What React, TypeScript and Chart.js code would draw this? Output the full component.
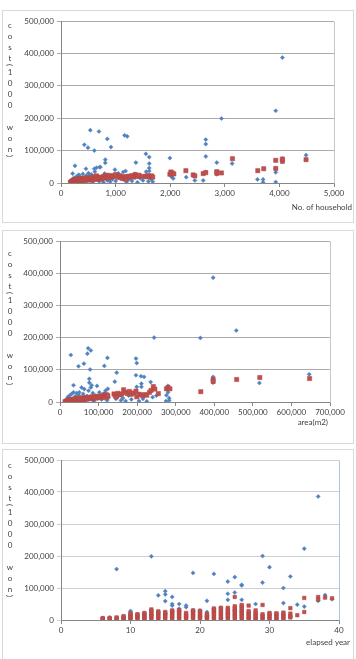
import React, { useEffect, useRef } from "react";
import { Chart, registerables } from "chart.js";

Chart.register(...registerables);

type Pt = [number, number];

const FONT = "Lato, 'Liberation Sans', sans-serif";
const BLUE = "#4F81BD";
const RED = "#C0504D";

const Y_TITLE = ["c", "o", "s", "t", "(", "1", "0", "0", "0", " ", "w", "o", "n", ")"];
const Y_TICK_MAX = 500000;
const Y_TICK_STEP = 100000;

// ---- cost vs. number of households ----
const HOUSEHOLD_BLUE: Pt[] = [
  [537, 163000], [695, 159000], [427, 118000], [494, 109000], [610, 100000], [848, 136000],
  [915, 111000], [1165, 147000], [1213, 144000], [811, 72000], [811, 62000], [1372, 63000],
  [1555, 90000], [1616, 80000], [1616, 60000], [1616, 46000], [1616, 37000], [256, 53000],
  [457, 44000], [707, 49000], [610, 44000], [988, 41000], [213, 29000], [335, 24000],
  [512, 29000], [799, 29000], [1140, 34000], [1183, 37000], [1994, 77000], [2012, 31000],
  [2024, 19000], [2055, 14000], [2293, 18000], [2451, 8000], [2604, 8000], [2652, 134000],
  [2652, 120000], [2652, 82000], [2652, 34000], [2854, 63000], [2854, 27000], [2939, 199000],
  [3134, 60000], [3598, 11000], [3701, 11000], [3701, 2000], [3933, 223000], [3933, 44000],
  [3933, 33000], [3933, 3000], [4055, 387000], [4055, 75000], [4055, 66000], [4488, 86000],
  [200, 5000], [230, 15000], [260, 2000], [280, 20000], [300, 10000], [320, 25000],
  [350, 18000], [380, 3000], [400, 28000], [430, 12000], [460, 22000], [500, 30000],
  [520, 8000], [560, 26000], [580, 3000], [620, 35000], [650, 47000], [680, 20000],
  [700, 5000], [720, 49000], [750, 15000], [780, 2000], [820, 24000], [850, 8000],
  [880, 19000], [900, 4000], [940, 12000], [1000, 6000], [1050, 30000], [1100, 22000],
  [1150, 10000], [1200, 3000], [1250, 12000], [1300, 6000], [1350, 28000], [1400, 2000],
  [1450, 15000], [1500, 8000], [1560, 35000], [1600, 5000], [1650, 12000], [1680, 4000],
];

const HOUSEHOLD_RED: Pt[] = [
  [170, 2000], [190, 4000], [200, 6000], [210, 3000], [220, 8000], [230, 5000], [240, 10000],
  [250, 7000], [260, 3000], [270, 9000], [280, 12000], [290, 6000], [300, 4000], [310, 10000],
  [320, 8000], [330, 13000], [340, 5000], [350, 11000], [360, 7000], [370, 14000], [380, 9000],
  [400, 12000], [410, 6000], [420, 15000], [430, 10000], [450, 8000], [460, 13000], [480, 16000],
  [500, 11000], [510, 9000], [530, 14000], [550, 17000], [560, 12000], [580, 10000], [600, 15000],
  [620, 19000], [640, 13000], [650, 22000], [660, 11000], [680, 16000], [700, 14000], [720, 18000],
  [740, 12000], [760, 17000], [780, 20000], [800, 15000], [820, 22000], [840, 18000], [860, 24000],
  [880, 16000], [900, 21000], [930, 19000], [950, 23000], [980, 20000], [1000, 26000], [1050, 17000],
  [1080, 22000], [1100, 18000], [1120, 14000], [1150, 20000], [1180, 16000], [1200, 12000],
  [1230, 21000], [1260, 19000], [1300, 23000], [1330, 18000], [1360, 26000], [1380, 22000],
  [1400, 20000], [1430, 24000], [1500, 20000], [1550, 21000], [1580, 19000], [1600, 23000],
  [1630, 20000], [1660, 22000], [1680, 18000], [1994, 27000], [2012, 34000], [2037, 31000],
  [2067, 28000], [2287, 38000], [2421, 25000], [2451, 22000], [2604, 29000], [2652, 32000],
  [2854, 35000], [2854, 30000], [2939, 31000], [3140, 75000], [3604, 38000], [3713, 44000],
  [3933, 70000], [3933, 45000], [4055, 67000], [4055, 74000], [4488, 72000],
];

// ---- cost vs. site area ----
const AREA_BLUE: Pt[] = [
  [397000, 386000], [457000, 222000], [364000, 199000], [244000, 200000], [28000, 146000],
  [73000, 167000], [80000, 160000], [71000, 150000], [62000, 119000], [48000, 111000],
  [78000, 101000], [123000, 137000], [115000, 112000], [197000, 135000], [199000, 121000],
  [197000, 83000], [210000, 80000], [218000, 78000], [147000, 91000], [142000, 63000],
  [76000, 72000], [76000, 60000], [82000, 52000], [35000, 52000], [96000, 50000],
  [235000, 62000], [397000, 78000], [397000, 60000], [517000, 59000], [646000, 86000],
  [280000, 50000], [276000, 21000], [283000, 5000], [275000, 3000], [211000, 57000],
  [211000, 47000], [199000, 47000], [115000, 26000], [124000, 41000],
  [15000, 3000], [18000, 8000], [20000, 15000], [23000, 5000], [25000, 20000], [27000, 10000],
  [30000, 25000], [32000, 3000], [35000, 30000], [38000, 12000], [40000, 18000], [43000, 28000],
  [45000, 6000], [48000, 22000], [50000, 30000], [53000, 14000], [56000, 45000], [58000, 8000],
  [60000, 25000], [63000, 40000], [66000, 3000], [70000, 18000], [74000, 35000], [80000, 45000],
  [83000, 10000], [85000, 28000], [88000, 2000], [92000, 20000], [98000, 12000], [102000, 30000],
  [108000, 8000], [112000, 25000], [118000, 35000], [122000, 5000], [126000, 15000],
  [145000, 10000], [152000, 20000], [158000, 5000], [163000, 12000], [170000, 3000],
  [178000, 20000], [185000, 8000], [195000, 28000], [205000, 3000], [215000, 10000],
  [225000, 2000], [240000, 15000], [250000, 20000], [280000, 30000], [283000, 12000],
];

const AREA_RED: Pt[] = [
  [13000, 1000], [16000, 3000], [18000, 2000], [20000, 5000], [22000, 3000], [24000, 6000],
  [26000, 4000], [28000, 7000], [30000, 2000], [32000, 8000], [34000, 5000], [36000, 9000],
  [38000, 4000], [40000, 10000], [42000, 6000], [44000, 8000], [46000, 11000], [48000, 5000],
  [50000, 9000], [52000, 12000], [55000, 7000], [58000, 10000], [60000, 13000], [62000, 8000],
  [65000, 11000], [68000, 14000], [70000, 9000], [72000, 12000], [75000, 15000], [78000, 10000],
  [80000, 13000], [83000, 16000], [86000, 11000], [88000, 14000], [90000, 17000], [93000, 12000],
  [96000, 15000], [100000, 18000], [103000, 13000], [106000, 16000], [110000, 19000],
  [113000, 14000], [116000, 21000], [118000, 17000], [120000, 23000], [122000, 15000],
  [124000, 20000], [140000, 25000], [143000, 20000], [146000, 16000], [150000, 27000],
  [155000, 22000], [160000, 25000], [165000, 38000], [170000, 30000], [175000, 26000],
  [180000, 33000], [185000, 24000], [190000, 28000], [197000, 34000], [199000, 16000],
  [205000, 24000], [210000, 22000], [215000, 20000], [220000, 23000], [225000, 21000],
  [232000, 30000], [236000, 36000], [242000, 48000], [246000, 40000], [255000, 26000],
  [276000, 41000], [280000, 45000], [285000, 41000], [365000, 32000], [397000, 70000],
  [397000, 64000], [458000, 70000], [518000, 76000], [647000, 73000],
];

// ---- cost vs. elapsed years ----
const YEAR_BLUE: Pt[] = [
  [6, 6000], [7, 8000], [8, 159000], [8, 5000], [9, 10000], [10, 28000], [10, 5000], [11, 18000],
  [12, 20000], [12, 4000], [13, 199000], [13, 30000], [13, 15000], [14, 77000], [14, 25000],
  [15, 90000], [15, 80000], [15, 59000], [15, 20000], [16, 72000], [16, 50000], [16, 45000],
  [16, 28000], [17, 50000], [17, 35000], [17, 30000], [18, 45000], [18, 40000], [18, 10000],
  [19, 147000], [19, 30000], [20, 30000], [20, 10000], [21, 60000], [21, 25000], [22, 144000],
  [22, 35000], [23, 38000], [23, 5000], [24, 120000], [24, 82000], [24, 63000], [24, 20000],
  [25, 134000], [25, 86000], [25, 30000], [26, 110000], [26, 108000], [26, 63000], [26, 25000],
  [27, 5000], [28, 50000], [28, 2000], [29, 200000], [29, 117000], [29, 0], [30, 165000],
  [30, 1000], [31, 3000], [32, 100000], [32, 53000], [33, 136000], [33, 10000], [34, 48000],
  [35, 223000], [35, 42000], [37, 386000], [37, 60000], [38, 78000], [39, 65000],
];

const YEAR_RED: Pt[] = [
  [6, 2000], [6, 4000], [6, 6000], [7, 2000], [7, 4000], [7, 6000], [8, 2000], [8, 5000], [8, 8000],
  [9, 2000], [9, 5000], [9, 9000], [9, 12000],
  [10, 2000], [10, 6000], [10, 10000], [10, 14000], [10, 18000], [10, 21000],
  [11, 3000], [11, 7000], [11, 11000], [11, 15000], [11, 18000],
  [12, 3000], [12, 7000], [12, 11000], [12, 15000], [12, 19000], [12, 22000],
  [13, 3000], [13, 8000], [13, 13000], [13, 18000], [13, 23000], [13, 28000], [13, 33000],
  [14, 3000], [14, 8000], [14, 13000], [14, 18000], [14, 23000], [14, 27000],
  [15, 3000], [15, 8000], [15, 13000], [15, 18000], [15, 22000], [15, 25000],
  [16, 3000], [16, 8000], [16, 13000], [16, 18000], [16, 23000], [16, 27000], [16, 30000],
  [17, 3000], [17, 8000], [17, 13000], [17, 18000], [17, 23000], [17, 27000], [17, 31000],
  [18, 3000], [18, 8000], [18, 13000], [18, 18000], [18, 22000],
  [19, 3000], [19, 8000], [19, 13000], [19, 18000], [19, 23000], [19, 27000], [19, 30000],
  [20, 3000], [20, 8000], [20, 13000], [20, 18000], [20, 23000], [20, 28000],
  [21, 3000], [21, 7000], [21, 11000], [21, 15000], [21, 18000],
  [22, 3000], [22, 8000], [22, 13000], [22, 18000], [22, 23000], [22, 28000], [22, 32000], [22, 36000],
  [23, 3000], [23, 8000], [23, 13000], [23, 18000], [23, 23000], [23, 28000], [23, 33000], [23, 38000],
  [24, 3000], [24, 8000], [24, 13000], [24, 18000], [24, 23000], [24, 28000], [24, 33000], [24, 38000],
  [25, 3000], [25, 8000], [25, 13000], [25, 18000], [25, 23000], [25, 28000], [25, 33000], [25, 38000],
  [25, 43000], [25, 72000],
  [26, 3000], [26, 8000], [26, 13000], [26, 18000], [26, 23000], [26, 28000], [26, 33000], [26, 38000],
  [26, 43000], [26, 47000],
  [27, 3000], [27, 8000], [27, 13000], [27, 18000], [27, 23000], [27, 28000], [27, 45000],
  [28, 3000], [28, 8000], [28, 13000], [28, 18000], [28, 23000], [28, 30000],
  [29, 3000], [29, 8000], [29, 13000], [29, 18000], [29, 47000],
  [30, 3000], [30, 8000], [30, 13000], [30, 18000], [30, 22000],
  [31, 3000], [31, 8000], [31, 13000], [31, 18000], [31, 21000],
  [32, 3000], [32, 8000], [32, 13000], [32, 18000], [32, 23000],
  [33, 8000], [33, 13000], [33, 20000], [33, 37000], [34, 15000], [35, 25000], [35, 69000],
  [37, 64000], [37, 72000], [38, 70000], [39, 68000],
];

interface PanelProps {
  boxTop: number;
  boxHeight: number;
  plotLeft: number;
  plotTop: number;
  plotRight: number;
  plotBottom: number;
  xMax: number;
  xStep: number;
  xTitle: string;
  xTitleRight: number;
  xTitleY: number;
  yTitleTop: number;
  gridColor: string;
  frameColor: string;
  redRadius: number;
  blue: Pt[];
  red: Pt[];
}

function Panel(p: PanelProps) {
  const ref = useRef<HTMLCanvasElement>(null);

  useEffect(() => {
    const canvas = ref.current;
    if (!canvas) return;
    const W = 356;
    const H = p.boxHeight;
    const top = p.boxTop;
    const xAxisH = 22;
    const padBottom = H - (p.plotBottom - top) - xAxisH;

    const textPlugin = {
      id: "panelText",
      afterDraw(chart: any) {
        const ctx: CanvasRenderingContext2D = chart.ctx;
        const a = chart.chartArea;
        ctx.save();
        // plot-area frame on the right
        ctx.strokeStyle = p.frameColor;
        ctx.lineWidth = 1;
        const rx = Math.round(a.right) + 0.5;
        ctx.beginPath();
        ctx.moveTo(rx, Math.round(a.top) + 0.5);
        ctx.lineTo(rx, Math.round(a.bottom) + 0.5);
        ctx.stroke();

        ctx.fillStyle = "#404040";
        ctx.font = `8px ${FONT}`;
        ctx.textAlign = "right";
        ctx.textBaseline = "middle";
        ctx.fillText(p.xTitle, p.xTitleRight, p.xTitleY - top);

        // stacked vertical axis title
        ctx.textAlign = "center";
        let y = p.yTitleTop - top;
        let prevParen = false;
        Y_TITLE.forEach((ch, i) => {
          const isParen = ch === "(" || ch === ")";
          if (i > 0) y += isParen || prevParen ? 7 : 11;
          if (isParen) {
            ctx.save();
            ctx.translate(10, y);
            ctx.rotate(Math.PI / 2);
            ctx.fillText(ch, 0, 0);
            ctx.restore();
          } else if (ch !== " ") {
            ctx.fillText(ch, 10, y);
          }
          prevParen = isParen;
        });
        ctx.restore();
      },
    };

    const chart = new Chart(canvas, {
      type: "scatter",
      data: {
        datasets: [
          {
            data: p.red.map(([x, y]) => ({ x, y })),
            backgroundColor: RED,
            borderColor: "#B04542",
            borderWidth: 0.5,
            pointStyle: "rect",
            pointRadius: p.redRadius,
          },
          {
            data: p.blue.map(([x, y]) => ({ x, y })),
            backgroundColor: BLUE,
            borderColor: "#5B8AC4",
            borderWidth: 0.5,
            pointStyle: "rectRot",
            pointRadius: 2.1,
          },
        ],
      },
      options: {
        responsive: false,
        animation: false,
        events: [],
        devicePixelRatio: 1,
        layout: {
          padding: { left: 0, top: p.plotTop - top, right: W - p.plotRight, bottom: padBottom },
        },
        plugins: { legend: { display: false }, tooltip: { enabled: false } },
        scales: {
          x: {
            type: "linear",
            min: 0,
            max: p.xMax,
            afterFit: (s: any) => {
              s.height = xAxisH;
            },
            ticks: {
              stepSize: p.xStep,
              color: "#404040",
              font: { family: FONT, size: 8 },
              padding: 2,
              maxRotation: 0,
            },
            grid: { drawOnChartArea: false, drawTicks: true, tickLength: 4, color: "#868686" },
            border: { color: "#868686" },
          },
          y: {
            min: 0,
            max: Y_TICK_MAX,
            afterFit: (s: any) => {
              s.width = p.plotLeft;
            },
            ticks: {
              stepSize: Y_TICK_STEP,
              color: "#404040",
              font: { family: FONT, size: 8 },
              padding: 3,
            },
            grid: { color: p.gridColor, tickLength: 4 },
            border: { color: "#868686" },
          },
        },
      },
      plugins: [textPlugin],
    } as any);

    return () => chart.destroy();
  }, []);

  return (
    <>
      <div
        style={{
          position: "absolute",
          left: 2,
          top: p.boxTop,
          width: 352,
          height: p.boxHeight,
          border: "1px solid #D9D9D9",
          boxSizing: "border-box",
          background: "#fff",
        }}
      />
      <canvas
        ref={ref}
        width={356}
        height={p.boxHeight}
        style={{ position: "absolute", left: 0, top: p.boxTop, width: 356, height: p.boxHeight }}
      />
    </>
  );
}

export default function App() {
  return (
    <div
      style={{
        position: "absolute",
        left: 0,
        top: 0,
        width: 356,
        height: 659,
        background: "#fff",
        overflow: "hidden",
      }}
    >
      <Panel
        boxTop={10}
        boxHeight={213}
        plotLeft={61}
        plotTop={21}
        plotRight={334}
        plotBottom={183}
        xMax={5000}
        xStep={1000}
        xTitle="No. of household"
        xTitleRight={352}
        xTitleY={207}
        yTitleTop={25}
        gridColor="#ABABAB"
        frameColor="#C8C8C8"
        redRadius={3}
        blue={HOUSEHOLD_BLUE}
        red={HOUSEHOLD_RED}
      />
      <Panel
        boxTop={230}
        boxHeight={214}
        plotLeft={60}
        plotTop={241}
        plotRight={330}
        plotBottom={402}
        xMax={700000}
        xStep={100000}
        xTitle="area(m2)"
        xTitleRight={328}
        xTitleY={422}
        yTitleTop={253}
        gridColor="#ABABAB"
        frameColor="#C8C8C8"
        redRadius={3}
        blue={AREA_BLUE}
        red={AREA_RED}
      />
      <Panel
        boxTop={449}
        boxHeight={212}
        plotLeft={61}
        plotTop={460}
        plotRight={339}
        plotBottom={620}
        xMax={40}
        xStep={10}
        xTitle="elapsed year"
        xTitleRight={350}
        xTitleY={642}
        yTitleTop={465}
        gridColor="#D0D0D0"
        frameColor="#A9C4E4"
        redRadius={2.5}
        blue={YEAR_BLUE}
        red={YEAR_RED}
      />
    </div>
  );
}
